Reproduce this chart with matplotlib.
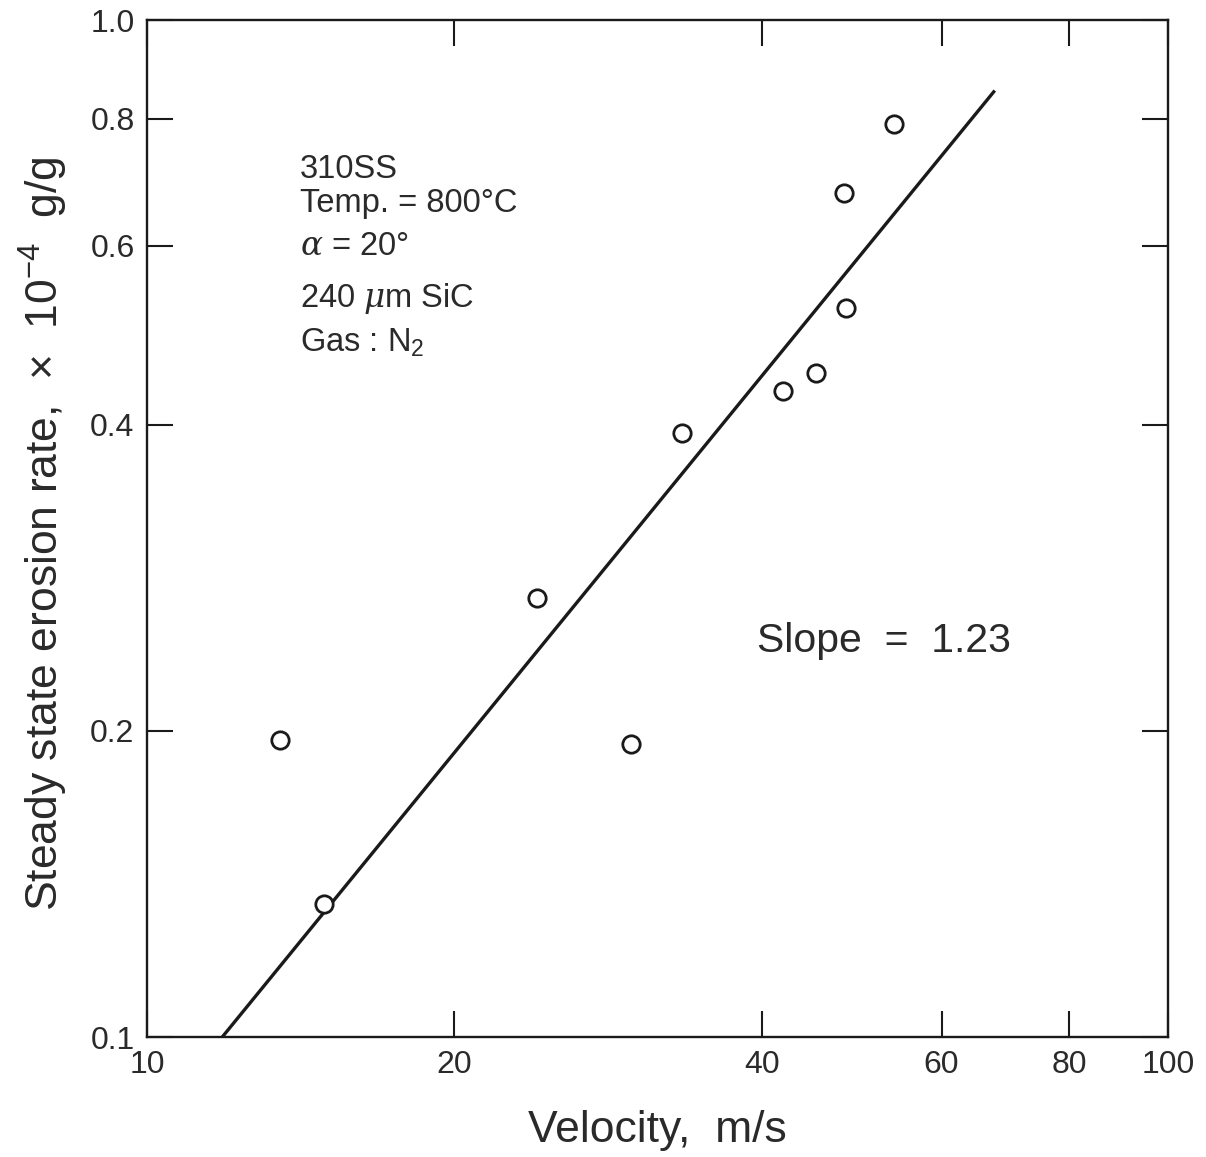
import matplotlib
matplotlib.use("Agg")
import matplotlib.pyplot as plt
import numpy as np

# erosion rate vs particle velocity, 310SS at 800 C
velocity = np.array([13.5, 14.9, 24.1, 29.8, 33.4, 42.0, 45.2, 48.2, 48.4, 53.9])
erosion = np.array([0.196, 0.135, 0.270, 0.194, 0.393, 0.432, 0.450, 0.676, 0.521, 0.790])

slope = 1.23
fit_anchor = (28.16, 0.290)   # point the fitted line goes through
fit_range = (11.85, 67.5)

x_ticks = [10, 20, 40, 60, 80, 100]
x_labels = ["10", "20", "40", "60", "80", "100"]
y_ticks = [0.1, 0.2, 0.4, 0.6, 0.8, 1.0]
y_labels = ["0.1", "0.2", "0.4", "0.6", "0.8", "1.0"]

info_lines = ["310SS", "Temp. = 800°C", r"$\alpha$ = 20°", r"240 $\mu$m SiC", r"Gas : N$_2$"]
info_y = [0.8446, 0.8112, 0.7689, 0.7178, 0.6735]   # baselines, axes fraction

plt.rcParams["font.family"] = ["Liberation Sans", "DejaVu Sans"]
plt.rcParams["mathtext.fontset"] = "custom"
plt.rcParams["mathtext.rm"] = "Liberation Sans"
plt.rcParams["mathtext.it"] = "DejaVu Serif:italic"

ink = "#1a1a1a"
txt_col = "#2a2a2a"

fig = plt.figure(figsize=(12.06, 11.57), dpi=100)
ax = fig.add_axes([0.1219, 0.1037, 0.8466, 0.879])

ax.set_xscale("log")
ax.set_yscale("log")
ax.set_xlim(10, 100)
ax.set_ylim(0.1, 1.0)

# fitted power law line
xf = np.array(fit_range)
yf = fit_anchor[1] * (xf / fit_anchor[0]) ** slope
ax.plot(xf, yf, color=ink, lw=2.4, zorder=2)

ax.plot(velocity, erosion, "o", ms=12.5, mfc="white", mec=ink, mew=2.0, zorder=3)

ax.xaxis.set_major_locator(matplotlib.ticker.FixedLocator(x_ticks))
ax.xaxis.set_major_formatter(matplotlib.ticker.FixedFormatter(x_labels))
ax.xaxis.set_minor_locator(matplotlib.ticker.NullLocator())
ax.yaxis.set_major_locator(matplotlib.ticker.FixedLocator(y_ticks))
ax.yaxis.set_major_formatter(matplotlib.ticker.FixedFormatter(y_labels))
ax.yaxis.set_minor_locator(matplotlib.ticker.NullLocator())

ax.tick_params(which="both", direction="in", top=True, right=True,
               length=19, width=1.5, labelsize=23, pad=9, color=ink,
               labelcolor=txt_col)
for s in ax.spines.values():
    s.set_linewidth(1.7)
    s.set_color(ink)

# axis titles
fig.text(0.545, 0.013, "Velocity,  m/s", fontsize=32, color=txt_col,
         ha="center", va="baseline")
fig.text(0.036, 0.5385, r"Steady state erosion rate,  $\times$  10$^{-4}$  g/g",
         fontsize=32, color=txt_col, rotation=90, ha="center", va="center")

for txt, yy in zip(info_lines, info_y):
    ax.text(0.1499, yy, txt, transform=ax.transAxes, fontsize=23.5, color=txt_col,
            va="baseline", ha="left")

ax.text(0.597, 0.3786, "Slope  =  1.23", transform=ax.transAxes, fontsize=29.5,
        color=txt_col, va="baseline", ha="left")

fig.savefig("out.png", dpi=100, facecolor="white")
